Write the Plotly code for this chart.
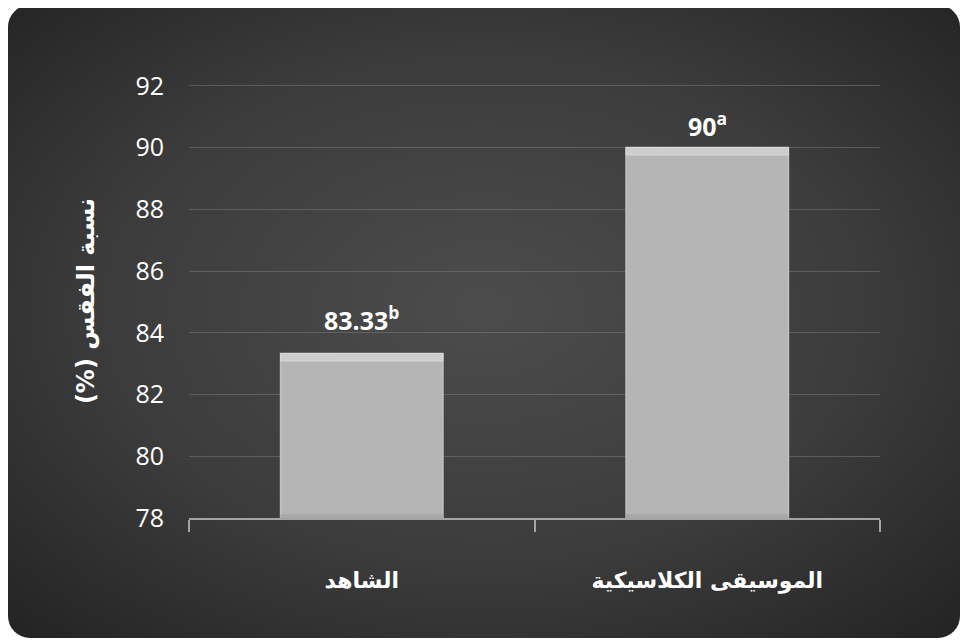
import base64
import plotly.graph_objects as go

categories = ["الشاهد", "الموسيقى الكلاسيكية"]
values = [83.33, 90]
letters = ["b", "a"]
value_labels = ["83.33", "90"]
y_ticks = [78, 80, 82, 84, 86, 88, 90, 92]
y_title = "(%) نسبة الفقس"

# layout / style (not data)
label_gap = [14, 3]
W, H = 961, 635
L, R, T, B = 181, 89, 76, 125
pw, ph = W - L - R, H - T - B
bar_w = 0.47
bevel_top = 0.24
bevel_bot = 0.12
range_pad = 0.06

svg = '''<svg xmlns="http://www.w3.org/2000/svg" width="952" height="633" viewBox="0 0 952 633">
<defs><radialGradient id="g" cx="50%" cy="48%" r="72%">
<stop offset="0%" stop-color="#4c4c4c"/><stop offset="55%" stop-color="#3c3c3c"/><stop offset="100%" stop-color="#232323"/>
</radialGradient></defs>
<rect x="0" y="0" width="952" height="633" rx="22" ry="22" fill="url(#g)"/>
</svg>'''
src = "data:image/svg+xml;base64," + base64.b64encode(svg.encode()).decode()

px0, px1, py0, py1 = 0, 952, -3, 630
img = dict(source=src, xref="paper", yref="paper",
           x=(px0 - L) / pw, y=(H - B - py0) / ph,
           sizex=(px1 - px0) / pw, sizey=(py1 - py0) / ph,
           sizing="stretch", xanchor="left", yanchor="top", layer="below")

ymin = y_ticks[0]
fig = go.Figure()
# main bar
fig.add_trace(go.Bar(
    x=categories, y=[v - ymin for v in values], base=ymin, width=bar_w,
    marker=dict(color="#b5b5b5", line=dict(color="#c2c2c2", width=1.5)),
    hoverinfo="skip",
))
# top bevel highlight
fig.add_trace(go.Bar(
    x=categories, y=[bevel_top] * len(values), base=[v - bevel_top for v in values], width=bar_w,
    marker=dict(color="#cdcdcd", line=dict(color="#d9d9d9", width=1)),
    hoverinfo="skip",
))
# bottom bevel shade
fig.add_trace(go.Bar(
    x=categories, y=[bevel_bot] * len(values), base=ymin, width=bar_w,
    marker=dict(color="#a8a8a8", line=dict(width=0)),
    hoverinfo="skip",
))

annotations = []
for c, v, t, l, g in zip(categories, values, value_labels, letters, label_gap):
    annotations.append(dict(
        x=c, y=v, xref="x", yref="y", text=f"<b>{t}<sup>{l}</sup></b>",
        showarrow=False, yanchor="bottom", yshift=g,
        font=dict(family="Open Sans", size=25, color="white"),
    ))

fig.update_layout(
    width=W, height=H, margin=dict(l=L, r=R, t=T, b=B),
    paper_bgcolor="white", plot_bgcolor="rgba(0,0,0,0)",
    images=[img], showlegend=False, barmode="overlay",
    font=dict(family="Open Sans", color="white"),
    annotations=annotations,
)
fig.update_xaxes(
    showline=True, linecolor="#a4a4a4", linewidth=2,
    ticks="outside", tickson="boundaries", ticklen=12, tickcolor="#a4a4a4", tickwidth=1.5,
    tickvals=categories, ticktext=[f"<b>{c}</b>" for c in categories],
    tickfont=dict(family="DejaVu Sans", size=22, color="white"),
    ticklabelstandoff=42, showgrid=False,
)
fig.update_yaxes(
    range=[y_ticks[0], y_ticks[-1] + range_pad], tickvals=y_ticks, showline=False,
    gridcolor="rgba(125,125,125,0.5)", gridwidth=1, zeroline=False,
    tickfont=dict(family="Open Sans", size=25, color="white"), ticklabelstandoff=24,
    title=dict(text=f"<b>{y_title}</b>", font=dict(family="DejaVu Sans", size=24, color="white"), standoff=34),
)
fig.write_html("out.html")
